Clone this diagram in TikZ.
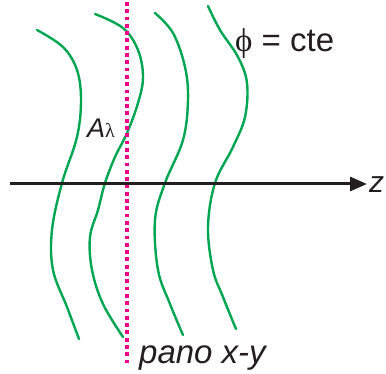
\documentclass[tikz,border=0pt]{standalone}
\usepackage{fontspec}
\setmainfont{Liberation Sans}
\newfontfamily\lamfont{Liberation Serif}
\usetikzlibrary{arrows.meta}
\definecolor{wavegreen}{RGB}{0,166,81}
\definecolor{planepink}{RGB}{236,0,140}
\definecolor{axisblack}{RGB}{35,31,32}
\tikzset{
  wave/.style={draw=wavegreen, line width=2.4pt, line cap=round},
  plane/.style={draw=planepink, line width=4pt, dash pattern=on 3.8pt off 3.5pt},
  axisline/.style={draw=axisblack, line width=3pt, -{Triangle[length=17pt,width=14pt]}},
  lbl/.style={inner sep=0pt, anchor=base west, text=axisblack}
}
\begin{document}
\begin{tikzpicture}[x=1pt,y=-1pt]
\useasboundingbox (0,0) rectangle (386,374);
% wavefronts
\draw[wave] plot[smooth, tension=0.6] coordinates {(37,30) (63,47) (77,70) (81,100) (77,137) (62,183) (52,230) (53,270) (67,307) (79,339)};
\draw[wave] plot[smooth, tension=0.6] coordinates {(95,14) (123,28) (138,50) (143,77) (138,103) (127,133) (115,157) (105,183) (98,210) (90,237) (92,270) (103,304) (123,337)};
\draw[wave] plot[smooth, tension=0.6] coordinates {(155,13) (173,33) (185,67) (188,100) (183,140) (165,183) (155,220) (158,270) (170,304) (183,335)};
\draw[wave] plot[smooth, tension=0.6] coordinates {(208,6) (220,30) (238,57) (247,83) (245,117) (233,147) (215,183) (208,227) (213,270) (223,297) (236,329)};
% plane x-y
\coordinate (ptop) at (126.5,2);
\coordinate (pbot) at (126.5,366);
\draw[plane] (ptop) -- (pbot);
% z axis
\coordinate (zs) at (10,184);
\coordinate (ze) at (367,184);
\draw[axisline] (zs) -- (ze);
% labels
\node[lbl] (zl) at (369,193) {\fontsize{30}{34}\selectfont\itshape z};
\node[lbl] (phil) at (235,52) {\fontsize{33}{36}\selectfont{\lamfont ϕ} = cte};
\node[lbl] (al) at (87,138) {\fontsize{27}{30}\selectfont\itshape A\lamfont\upshape\fontsize{20}{22}\selectfont λ};
\node[lbl] (pl) at (139,363) {\fontsize{33}{36}\selectfont\itshape pano x-y};
\end{tikzpicture}
\end{document}
